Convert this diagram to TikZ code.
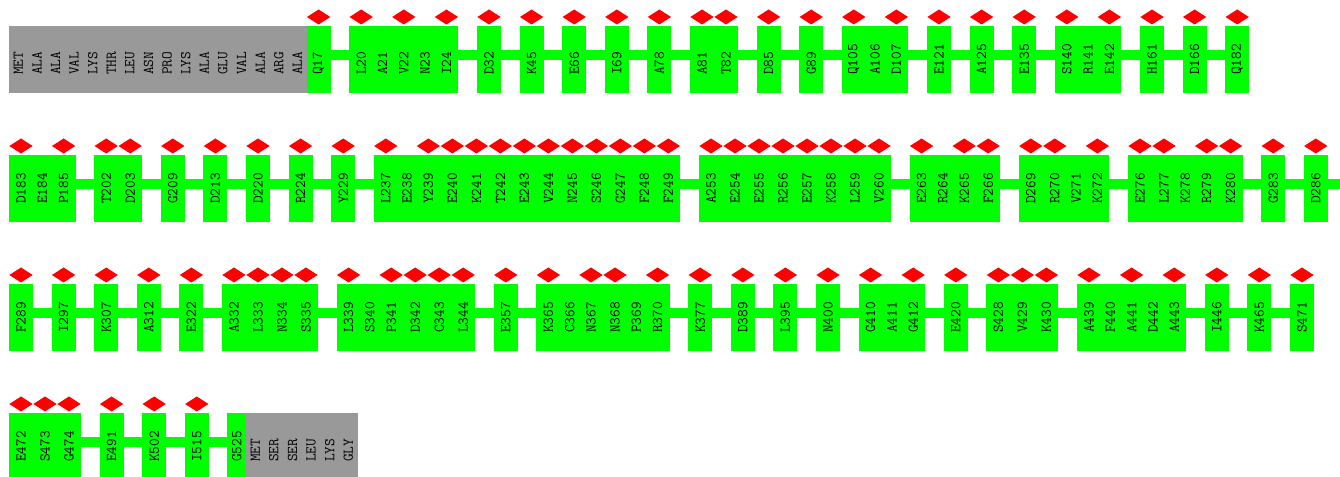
\documentclass[tikz,border=0pt]{standalone}
\usepackage{fontspec}
\usetikzlibrary{positioning}
\usetikzlibrary{shapes.geometric}

\definecolor{resgray}{RGB}{153,153,153}

\begin{document}
\begin{tikzpicture}[x=.75pt, y=.75pt,
		res/.style={inner sep=0pt, outer sep=0pt, minimum height=50.25pt},
		res0/.style={res, fill=green, minimum width=13.95pt},
		res1/.style={res, fill=green, minimum width=18pt},
		res2/.style={res, fill=resgray, minimum width=13.95pt},
		rowstart/.style={inner sep=0pt, outer sep=0pt, minimum size=0pt},
		tag/.style={rotate=90, anchor=west, inner sep=0pt, font=\ttfamily\fontsize{11.2}{13}\selectfont},
		hitmark/.style={shape=diamond, fill=red, inner sep=0pt, outer sep=0pt, minimum width=17.5pt, minimum height=11.25pt},
		link/.style={green, line width=7.9pt}]
	\clip (0,0) rectangle (1340,-477);
	\node[rowstart] (row1) at (9, -59.5) {};
	\node[rowstart] (row2) at (9,-188.5) {};
	\node[rowstart] (row3) at (9,-317.5) {};
	\node[rowstart] (row4) at (9,-446.5) {};
	\coordinate (wrap) at (1345,-188.5);
	% start of the chain
	\foreach \a/\txt [remember=\a as \prev (initially row1)] in {a1/MET, a2/ALA, a3/ALA, a4/VAL, a5/LYS, a6/THR, a7/LEU, a8/ASN, a9/PRO, a10/LYS, a11/ALA, a12/GLU, a13/VAL, a14/ALA, a15/ARG, a16/ALA}{
		\node[res2, right=0pt of \prev] (\a) {};
		\node[tag] (t\a) at ([yshift=-11.6pt]\a.center) {\txt};
	}
	% residues: name/hit/cut (cut 1 = gap, 2-4 = new row)
	\foreach \a/\hit/\cut [remember=\a as \prev (initially a16)] in {
			Q17/1/0, L20/1/1, A21/0/0, V22/1/0, N23/0/0, I24/1/0, D32/1/1, K45/1/1, E66/1/1, I69/1/1,
			A78/1/1, A81/1/1, T82/1/0, D85/1/1, G89/1/1, Q105/1/1, A106/0/0, D107/1/0, E121/1/1, A125/1/1,
			E135/1/1, S140/1/1, R141/0/0, E142/1/0, H161/1/1, D166/1/1, Q182/1/1,
			D183/1/2, E184/0/0, P185/1/0, T202/1/1, D203/1/0, G209/1/1, D213/1/1, D220/1/1, R224/1/1, Y229/1/1,
			L237/1/1, E238/0/0, Y239/1/0, E240/1/0, K241/1/0, T242/1/0, E243/1/0, V244/1/0, N245/1/0, S246/1/0,
			G247/1/0, F248/1/0, F249/1/0, A253/1/1, E254/1/0, E255/1/0, R256/1/0, E257/1/0, K258/1/0, L259/1/0,
			V260/1/0, E263/1/1, R264/0/0, K265/1/0, F266/1/0, D269/1/1, R270/1/0, V271/0/0, K272/1/0, E276/1/1,
			L277/1/0, K278/0/0, R279/1/0, K280/1/0, G283/1/1, D286/1/1,
			F289/1/3, I297/1/1, K307/1/1, A312/1/1, E322/1/1, A332/1/1, L333/1/0, N334/1/0, S335/1/0, L339/1/1,
			S340/0/0, P341/1/0, D342/1/0, C343/1/0, L344/1/0, E357/1/1, K365/1/1, C366/0/0, N367/1/0, N368/1/0,
			P369/0/0, R370/1/0, K377/1/1, D389/1/1, L395/1/1, N400/1/1, G410/1/1, A411/0/0, G412/1/0, E420/1/1,
			S428/1/1, V429/1/0, K430/1/0, A439/1/1, F440/0/0, A441/1/0, D442/0/0, A443/1/0, I446/1/1, K465/1/1,
			S471/1/1,
			E472/1/4, S473/1/0, G474/1/0, E491/1/1, K502/1/1, I515/1/1, G525/0/1}{
		\ifnum\cut>1 \edef\prev{row\cut}\fi
		\pgfmathsetmacro\gap{\cut==1 ? 13.95 : 0}
		\node[res\hit, right=\gap pt of \prev] (\a) {};
		\node[tag] (t\a) at ([yshift=-11.6pt]\a.center) {\a};
		\ifnum\hit=1 \node[hitmark, above=1.125pt of \a] (m\a) {}; \fi
		\ifnum\cut=1 \draw[link] ([yshift=3.5pt]\prev.east) -- ([yshift=3.5pt]\a.west); \fi
	}
	\draw[link] ([yshift=3.5pt]D286.east) -- ([yshift=3.5pt]wrap);
	% end of the chain
	\foreach \a/\txt [remember=\a as \prev (initially G525)] in {b1/MET, b2/SER, b3/SER, b4/LEU, b5/LYS, b6/GLY}{
		\node[res2, right=0pt of \prev] (\a) {};
		\node[tag] (t\a) at ([yshift=-11.6pt]\a.center) {\txt};
	}
\end{tikzpicture}
\end{document}
